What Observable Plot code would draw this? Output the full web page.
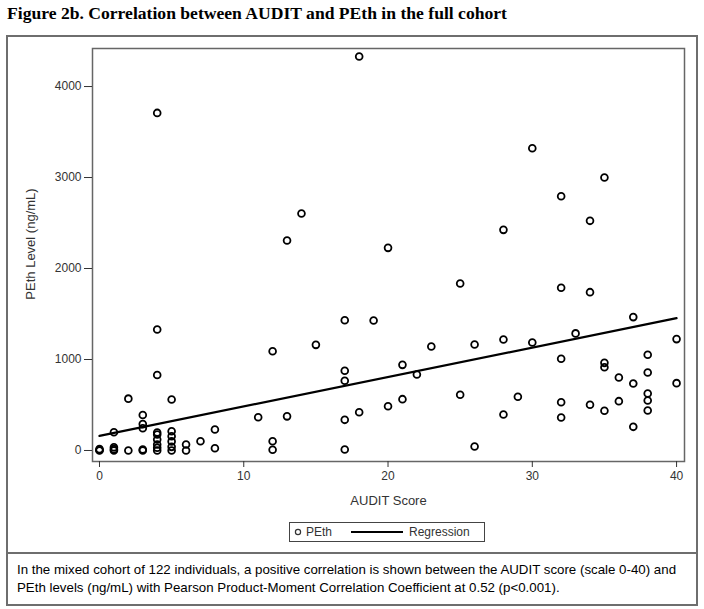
<!DOCTYPE html>
<html><head><meta charset="utf-8">
<script src="https://cdn.jsdelivr.net/npm/d3@7"></script>
<script src="https://cdn.jsdelivr.net/npm/@observablehq/plot@0.6"></script>
<style>
body{margin:0;background:#fff;}
#page{position:relative;width:704px;height:609px;font-family:"Liberation Sans",Arial,sans-serif;overflow:hidden;}
#title{position:absolute;left:7px;top:3px;font:bold 17.6px "Liberation Serif","Times New Roman",serif;color:#000;white-space:nowrap;}
.box{position:absolute;box-sizing:border-box;border:2px solid #6e6e6e;}
#outer{left:6px;top:35px;width:692px;height:519px;}
#capbox{left:6px;top:552px;width:692px;height:54px;}
#caption{position:absolute;left:17px;top:561px;width:680px;font-size:13.3px;line-height:18px;color:#000;}
#chart{position:absolute;left:0;top:0;}
#legend{position:absolute;left:289px;top:522px;width:196px;height:20px;box-sizing:border-box;border:1px solid #444;font-size:12px;color:#333;}
#legend span{position:absolute;top:2px;}
</style></head>
<body><div id="page">
<div id="title">Figure 2b. Correlation between AUDIT and PEth in the full cohort</div>
<div class="box" id="outer"></div>
<div class="box" id="capbox"></div>
<div id="chart"></div>
<div id="legend">
  <svg width="196" height="18" style="position:absolute;left:0;top:0">
    <circle cx="8" cy="9" r="2.6" fill="none" stroke="#333" stroke-width="1.2"></circle>
    <line x1="61" x2="113" y1="9" y2="9" stroke="#000" stroke-width="2"></line>
  </svg>
  <span style="left:16px">PEth</span>
  <span style="left:119px">Regression</span>
</div>
<div id="caption">In the mixed cohort of 122 individuals, a positive correlation is shown between the AUDIT score (scale 0-40) and PEth levels (ng/mL) with Pearson Product-Moment Correlation Coefficient at 0.52 (p&lt;0.001).</div>
</div>
<script>
// AUDIT score (x) and PEth level in ng/mL (y)
const auditScore = [
  0,0,0,
  1,1,1,1,
  2,2,
  3,3,3,3,3,
  4,4,4,4,4,4,4,4,4,
  5,5,5,5,5,5,
  6,6,
  7,
  8,8,
  11,
  12,12,12,
  13,13,
  14,
  15,
  17,17,17,17,17,
  18,18,
  19,
  20,20,
  21,21,
  22,
  23,
  25,25,
  26,26,
  28,28,28,
  29,
  30,30,
  32,32,32,32,32,
  33,
  34,34,34,
  35,35,35,35,
  36,36,
  37,37,37,
  38,38,38,38,38,
  40,40
];
const pethLevel = [
  0,5,15,
  0,15,35,200,
  0,570,
  0,10,245,290,390,
  0,30,66,120,176,198,830,1330,3710,
  0,40,100,157,212,560,
  0,66,
  102,
  25,230,
  366,
  8,102,1090,
  375,2308,
  2604,
  1161,
  11,337,766,876,1432,
  421,4330,
  1429,
  487,2227,
  564,941,
  835,
  1143,
  612,1835,
  44,1165,
  396,1220,2425,
  590,
  1187,3322,
  363,531,1008,1788,2795,
  1287,
  502,1740,2524,
  436,915,963,3000,
  542,802,
  260,736,1466,
  440,549,626,857,1053,
  740,1224
];
// Regression line end points
const regressionX = [0, 40];
const regressionY = [160, 1455];
const xTicks = [0, 10, 20, 30, 40];
const yTicks = [0, 1000, 2000, 3000, 4000];

const points = auditScore.map((x, i) => ({x, y: pethLevel[i]}));
const regression = regressionX.map((x, i) => ({x, y: regressionY[i]}));

const chart = Plot.plot({
  width: 704, height: 553,
  marginLeft: 92, marginRight: 20, marginTop: 48, marginBottom: 92,
  style: {background: "transparent", fontFamily: "'Liberation Sans', Arial, sans-serif", fontSize: "12px", color: "#333"},
  x: {domain: [-0.485, 40.55]},
  y: {domain: [-121, 4418]},
  marks: [
    Plot.frame({stroke: "#666", strokeWidth: 1.5}),
    Plot.axisX({ticks: xTicks, tickSize: 6, tickPadding: 4, label: null, tickFormat: d => String(d)}),
    Plot.axisY({ticks: yTicks, tickSize: 8, tickPadding: 3, label: null, tickFormat: d => String(d)}),
    Plot.text(["AUDIT Score"], {frameAnchor: "bottom", textAnchor: "middle", lineAnchor: "middle", dy: 39, fontSize: 13, fill: "#333"}),
    Plot.text(["PEth Level (ng/mL)"], {frameAnchor: "left", textAnchor: "middle", lineAnchor: "middle", dx: -62, dy: -11, rotate: -90, fontSize: 13, fill: "#333"}),
    Plot.line(regression, {x: "x", y: "y", stroke: "#000", strokeWidth: 2.2}),
    Plot.dot(points, {x: "x", y: "y", r: 3.4, stroke: "#000", strokeWidth: 1.8, fill: "none"})
  ]
});
document.getElementById("chart").appendChild(chart);
</script>
</body></html>
